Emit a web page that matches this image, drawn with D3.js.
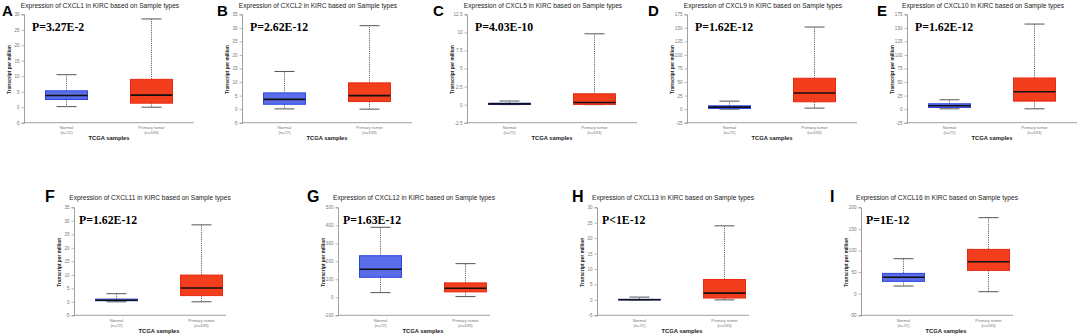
<!DOCTYPE html>
<html>
<head>
<meta charset="utf-8">
<script src="https://cdn.jsdelivr.net/npm/d3@7"></script>
<style>
  html, body { margin: 0; padding: 0; background: #fff; }
  svg { display: block; }
  .tick text { fill: #777; }
</style>
</head>
<body>
<svg id="chart" width="1080" height="336"></svg>
<script>
// values
const panelLetters = ['A', 'B', 'C', 'D', 'E', 'F', 'G', 'H', 'I'];
const genes = ['CXCL1', 'CXCL2', 'CXCL5', 'CXCL9', 'CXCL10', 'CXCL11', 'CXCL12', 'CXCL13', 'CXCL16'];
const pValues = ['P=3.27E-2', 'P=2.62E-12', 'P=4.03E-10', 'P=1.62E-12', 'P=1.62E-12',
                 'P=1.62E-12', 'P=1.63E-12', 'P<1E-12', 'P=1E-12'];
const groups = ['Normal', 'Primary tumor'];
const groupN = ['(n=72)', '(n=533)'];

const yTicks = [
  [-5, 0, 5, 10, 15, 20, 25, 30],
  [-5, 0, 5, 10, 15, 20, 25, 30, 35],
  [-2.5, 0, 2.5, 5, 7.5, 10, 12.5],
  [-25, 0, 25, 50, 75, 100, 125, 150, 175],
  [-25, 0, 25, 50, 75, 100, 125, 150, 175],
  [-5, 0, 5, 10, 15, 20, 25, 30, 35],
  [-100, 0, 100, 200, 300, 400, 500],
  [-5, 0, 5, 10, 15, 20, 25, 30],
  [-50, 0, 50, 100, 150, 200],
];

// [lower whisker, q1, median, q3, upper whisker]
const normalStats = [
  [0.2, 2.5, 3.8, 5.3, 10.5],
  [0.1, 1.8, 3.6, 6.0, 13.9],
  [0, 0.02, 0.1, 0.2, 0.5],
  [0, 1.2, 3.7, 6.2, 14.8],
  [0.6, 3.1, 6.2, 9.9, 17.3],
  [0, 0.4, 0.6, 1.0, 3.0],
  [26, 111, 156, 231, 389],
  [0, 0.02, 0.05, 0.2, 0.9],
  [17.7, 28.5, 38, 47, 81],
];
const tumorStats = [
  [0, 1.3, 3.9, 9.0, 28.5],
  [0, 2.8, 5.0, 9.7, 30.8],
  [0, 0.03, 0.3, 1.5, 9.8],
  [1.9, 13.6, 29.7, 57, 151.5],
  [0.6, 14.8, 32, 57.5, 157],
  [0, 2.3, 5.1, 9.9, 28.5],
  [4, 30, 50, 80, 187],
  [0, 0.6, 2.2, 6.6, 24.0],
  [4.6, 54, 74, 102.6, 176],
];

// layout (pixels)
const PANEL_X = [24, 242, 467, 687, 907, 74, 338, 597, 861];
const LETTER_X = [2, 217, 433, 648, 877, 45, 307, 572, 830];
const PANEL_ROW = [0, 0, 0, 0, 0, 1, 1, 1, 1];
const ROWS = [
  { top: 14.3, bot: 122.7, letterY: 15.5, letterSize: 15, titleY: 7.5, pY: 31, pDx: 8,
    lab1: 128.5, lab2: 133.5, xTitle: 140, axisLen: 170 },
  { top: 207.3, bot: 315.3, letterY: 202, letterSize: 16, titleY: 199.5, pY: 224, pDx: 5,
    lab1: 321.5, lab2: 326.5, xTitle: 332.5, axisLen: 152 },
];
const PLOT_W = 170, BOX_W = 42, CAP_W = 20;
const FILL = ['#5b6de8', '#f23e1c'];
const EDGE = ['#2f46e0', '#e82a14'];

const svg = d3.select('#chart');

genes.forEach((gene, i) => {
  const L = PANEL_X[i];
  const R = ROWS[PANEL_ROW[i]];
  const ticks = yTicks[i];
  const g = svg.append('g');

  const y = d3.scaleLinear().domain(d3.extent(ticks)).range([R.bot, R.top]);
  const x = d3.scalePoint().domain(groups).range([L, L + PLOT_W]).padding(0.5);

  // panel letter
  g.append('text').attr('x', LETTER_X[i]).attr('y', R.letterY)
    .attr('font-family', 'Liberation Sans, Arial, sans-serif').attr('font-weight', 700)
    .attr('font-size', R.letterSize).attr('fill', '#000').text(panelLetters[i]);

  // title
  g.append('text').attr('x', L + 76).attr('y', R.titleY).attr('text-anchor', 'middle')
    .attr('font-family', 'Liberation Sans, Arial, sans-serif').attr('font-size', 6.6)
    .attr('fill', '#222').text(`Expression of ${gene} in KIRC based on Sample types`);

  // y axis
  const yAxis = g.append('g').attr('transform', `translate(${L},0)`)
    .call(d3.axisLeft(y).tickValues(ticks).tickSize(2.5).tickPadding(2).tickFormat(d => String(d)));
  yAxis.select('.domain').attr('stroke', '#888').attr('stroke-width', 0.8);
  yAxis.selectAll('.tick line').attr('stroke', '#888').attr('stroke-width', 0.6);
  yAxis.selectAll('.tick text').attr('font-size', 4.6)
    .attr('font-family', 'Liberation Sans, Arial, sans-serif');

  g.append('text')
    .attr('transform', `translate(${L - 13},${(R.top + R.bot) / 2 + 1}) rotate(-90)`)
    .attr('text-anchor', 'middle').attr('font-family', 'Liberation Sans, Arial, sans-serif')
    .attr('font-size', 4.8).attr('font-weight', 700).attr('fill', '#222')
    .text('Transcript per million');

  // x axis line
  g.append('line').attr('x1', L).attr('x2', L + R.axisLen)
    .attr('y1', R.bot).attr('y2', R.bot).attr('stroke', '#888').attr('stroke-width', 0.8);

  groups.forEach((grp, k) => {
    const cx = x(grp);
    g.append('text').attr('x', cx).attr('y', R.lab1).attr('text-anchor', 'middle')
      .attr('font-family', 'Liberation Sans, Arial, sans-serif').attr('font-size', 4.2)
      .attr('fill', '#777').text(grp);
    g.append('text').attr('x', cx).attr('y', R.lab2).attr('text-anchor', 'middle')
      .attr('font-family', 'Liberation Sans, Arial, sans-serif').attr('font-size', 4.2)
      .attr('fill', '#777').text(groupN[k]);
  });

  g.append('text').attr('x', L + 85).attr('y', R.xTitle).attr('text-anchor', 'middle')
    .attr('font-family', 'Liberation Sans, Arial, sans-serif').attr('font-size', 5.8)
    .attr('font-weight', 700).attr('fill', '#222').text('TCGA samples');

  // boxes
  [normalStats[i], tumorStats[i]].forEach((s, k) => {
    const cx = x(groups[k]);
    const [lo, q1, med, q3, hi] = s;
    const wh = g.append('g').attr('stroke', '#555');
    wh.append('line').attr('x1', cx).attr('x2', cx).attr('y1', y(q3)).attr('y2', y(hi))
      .attr('stroke-dasharray', '1.2,1').attr('stroke-width', 0.9);
    wh.append('line').attr('x1', cx).attr('x2', cx).attr('y1', y(q1)).attr('y2', y(lo))
      .attr('stroke-dasharray', '1.2,1').attr('stroke-width', 0.9);
    [lo, hi].forEach(v => {
      wh.append('line').attr('x1', cx - CAP_W / 2).attr('x2', cx + CAP_W / 2)
        .attr('y1', y(v)).attr('y2', y(v)).attr('stroke-width', 1);
    });
    g.append('rect').attr('x', cx - BOX_W / 2).attr('width', BOX_W)
      .attr('y', y(q3)).attr('height', Math.max(0.5, y(q1) - y(q3)))
      .attr('fill', FILL[k]).attr('stroke', EDGE[k]).attr('stroke-width', 1);
    g.append('line').attr('x1', cx - BOX_W / 2).attr('x2', cx + BOX_W / 2)
      .attr('y1', y(med)).attr('y2', y(med)).attr('stroke', '#111').attr('stroke-width', 1.6);
  });

  // p value
  g.append('text').attr('x', L + R.pDx).attr('y', R.pY)
    .attr('font-family', 'Liberation Serif, Times New Roman, serif').attr('font-weight', 700)
    .attr('font-size', 11.8).attr('fill', '#000').text(pValues[i]);
});
</script>
</body>
</html>
